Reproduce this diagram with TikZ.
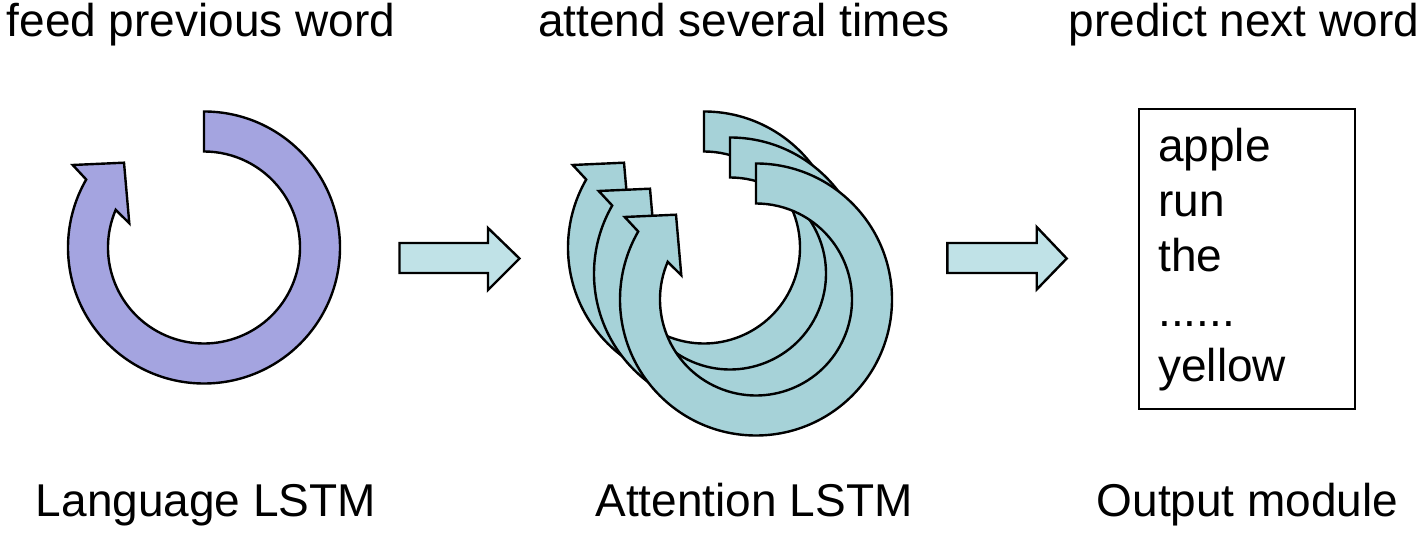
\documentclass[tikz,border=0pt]{standalone}
\usepackage{fontspec}
\setmainfont{Liberation Sans}
\usetikzlibrary{calc}
\definecolor{ringpurple}{RGB}{164,164,224}
\definecolor{ringteal}{RGB}{166,210,216}
\definecolor{arrowfill}{RGB}{192,226,231}
\tikzset{
  ring/.style={draw=black, line width=2.4pt, line join=miter},
  lbl/.style={font=\fontsize{46}{55}\selectfont, anchor=base, inner sep=0pt},
  item/.style={font=\fontsize{46}{55}\selectfont, anchor=base west, inner sep=0pt},
  blockarrow/.style={draw=black, line width=2.4pt, fill=arrowfill, line join=miter},
  listbox/.style={draw=black, line width=2.4pt, minimum width=216pt, minimum height=300pt, inner sep=0pt},
}
\newcommand\ringarrow[3]{%
  \begin{scope}[shift={(#1,#2)}]
    \filldraw[ring, fill=#3] (90:136)
      arc[start angle=90, end angle=-210, radius=136]
      -- (-131.3,82.5) -- (-80,84.8) -- (-74.7,24.2) -- (156.9:96)
      arc[start angle=-203.1, end angle=90, radius=96] -- cycle;
  \end{scope}}
\begin{document}
\begin{tikzpicture}[x=1pt,y=1pt]
\useasboundingbox (0,0) rectangle (1422,534);
% titles
\node[lbl] (tfeed) at (201,497) {feed previous word};
\node[lbl] (tattend) at (744,497) {attend several times};
\node[lbl] (tpredict) at (1244,497) {predict next word};
% captions
\node[lbl] (clang) at (206,17) {Language LSTM};
\node[lbl] (catt) at (754,17) {Attention LSTM};
\node[lbl] (cout) at (1247.5,17) {Output module};
% language LSTM ring
\ringarrow{204}{286.5}{ringpurple}
% attention LSTM rings
\ringarrow{704}{286.5}{ringteal}
\ringarrow{730}{260.5}{ringteal}
\ringarrow{756}{234.5}{ringteal}
% block arrows
\draw[blockarrow] (399.5,291) -- (488,291) -- (488,306) -- (519.5,275.5)
  -- (488,244) -- (488,261) -- (399.5,261) -- cycle;
\draw[blockarrow] (947.3,291) -- (1036.7,291) -- (1036.7,307) -- (1066.7,275.5)
  -- (1036.7,244.5) -- (1036.7,261) -- (947.3,261) -- cycle;
% output box
\node[listbox] (box) at (1247,275) {};
\node[item] (w1) at (1158,372) {apple};
\node[item] (w2) at (1158,317) {run};
\node[item] (w3) at (1158,262) {the};
\node[item] (w4) at (1158,207) {......};
\node[item] (w5) at (1158,152) {yellow};
\end{tikzpicture}
\end{document}
